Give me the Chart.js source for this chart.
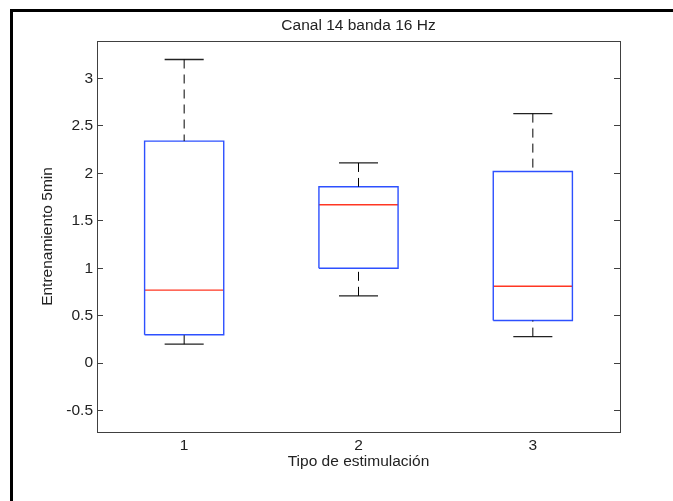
<!DOCTYPE html>
<html>
<head>
<meta charset="utf-8">
<script src="https://cdn.jsdelivr.net/npm/chart.js@4.4.1/dist/chart.umd.min.js"></script>
<style>
  html, body { margin:0; padding:0; background:#fff; }
  #marco { position:absolute; left:10px; top:9px; right:0; bottom:0; border-top:3px solid #000; border-left:3px solid #000; }
  #contenedor { position:absolute; left:0; top:0; width:673px; height:501px; }
</style>
</head>
<body>
<div id="marco"></div>
<div id="contenedor"><canvas id="grafico"></canvas></div>
<script>
const categorias = [1, 2, 3];
const maximos  = [3.20, 2.11, 2.63];
const cuartil3 = [2.34, 1.86, 2.02];
const medianas = [0.77, 1.67, 0.81];
const cuartil1 = [0.30, 1.00, 0.45];
const minimos  = [0.20, 0.71, 0.28];
const ticksY = [-0.5, 0, 0.5, 1, 1.5, 2, 2.5, 3];

const anchoCaja = 0.227;
const anchoTope = 0.112;
const fuente = { family: "'Liberation Sans', Arial, sans-serif", size: 15.5 };
const gris = '#404040';

function segmentos(fn)
{
  let puntos = [];
  for (let i = 0; i < categorias.length; i++) {
    puntos = puntos.concat(fn(categorias[i], i));
    puntos.push({ x: categorias[i], y: null });
  }
  return puntos;
}

function linea(datos, color, ancho, dash)
{
  return {
    data: datos,
    showLine: true,
    borderColor: color,
    borderWidth: ancho,
    borderDash: dash || [],
    pointRadius: 0,
    fill: false,
    spanGaps: false
  };
}

const cajas = segmentos((c, i) => [
  { x: c - anchoCaja, y: cuartil1[i] }, { x: c + anchoCaja, y: cuartil1[i] },
  { x: c + anchoCaja, y: cuartil3[i] }, { x: c - anchoCaja, y: cuartil3[i] },
  { x: c - anchoCaja, y: cuartil1[i] }
]);
const lineaMediana = segmentos((c, i) => [
  { x: c - anchoCaja, y: medianas[i] }, { x: c + anchoCaja, y: medianas[i] }
]);
const bigoteSup = segmentos((c, i) => [{ x: c, y: maximos[i] }, { x: c, y: cuartil3[i] }]);
const bigoteInf = segmentos((c, i) => [{ x: c, y: minimos[i] }, { x: c, y: cuartil1[i] }]);
const topes = segmentos((c, i) => [
  { x: c - anchoTope, y: maximos[i] }, { x: c + anchoTope, y: maximos[i] },
  { x: c, y: null },
  { x: c - anchoTope, y: minimos[i] }, { x: c + anchoTope, y: minimos[i] }
]);

function ejeX(extra)
{
  return Object.assign({
    type: 'linear',
    min: 0.5,
    max: 3.5,
    afterBuildTicks: s => { s.ticks = categorias.map(v => ({ value: v })); },
    grid: { display: false, drawTicks: false },
    border: { display: true, color: gris, width: 1 }
  }, extra);
}

function ejeY(extra)
{
  return Object.assign({
    type: 'linear',
    min: -0.725,
    max: 3.395,
    afterBuildTicks: s => { s.ticks = ticksY.map(v => ({ value: v })); },
    grid: { display: true, drawOnChartArea: false, drawTicks: true, tickLength: -6, color: gris, lineWidth: 1 },
    border: { display: true, color: gris, width: 1 }
  }, extra);
}

const grafico = new Chart(document.getElementById('grafico'), {
  type: 'scatter',
  data: {
    datasets: [
      linea(bigoteSup, '#000', 1, [9, 6]),
      linea(bigoteInf, '#000', 1, [9, 6]),
      linea(topes, '#222', 1.3),
      linea(cajas, 'rgb(45,80,255)', 1.4),
      linea(lineaMediana, 'rgb(255,55,35)', 1.4)
    ]
  },
  options: {
    responsive: true,
    maintainAspectRatio: false,
    animation: false,
    layout: { padding: 0 },
    plugins: { legend: { display: false }, tooltip: { enabled: false } },
    scales: {
      x: ejeX({
        position: 'bottom',
        afterFit: s => { s.height = 69; },
        ticks: { font: fuente, color: '#222', padding: 4, callback: v => String(v) },
        title: { display: true, text: 'Tipo de estimulación', font: fuente, color: '#222', padding: { top: 0, bottom: 30 } }
      }),
      x2: ejeX({
        position: 'top',
        afterFit: s => { s.height = 41; },
        ticks: { display: false },
        title: { display: true, text: 'Canal 14 banda 16 Hz', font: fuente, color: '#222', padding: { top: 16, bottom: 0 } }
      }),
      y: ejeY({
        position: 'left',
        afterFit: s => { s.width = 97; },
        ticks: { font: fuente, color: '#222', padding: 10, callback: v => String(v) },
        title: { display: true, text: 'Entrenamiento 5min', font: fuente, color: '#222', padding: { top: 38, bottom: 0 } }
      }),
      y2: ejeY({
        position: 'right',
        afterFit: s => { s.width = 53; },
        ticks: { display: false }
      })
    }
  }
});
</script>
</body>
</html>
